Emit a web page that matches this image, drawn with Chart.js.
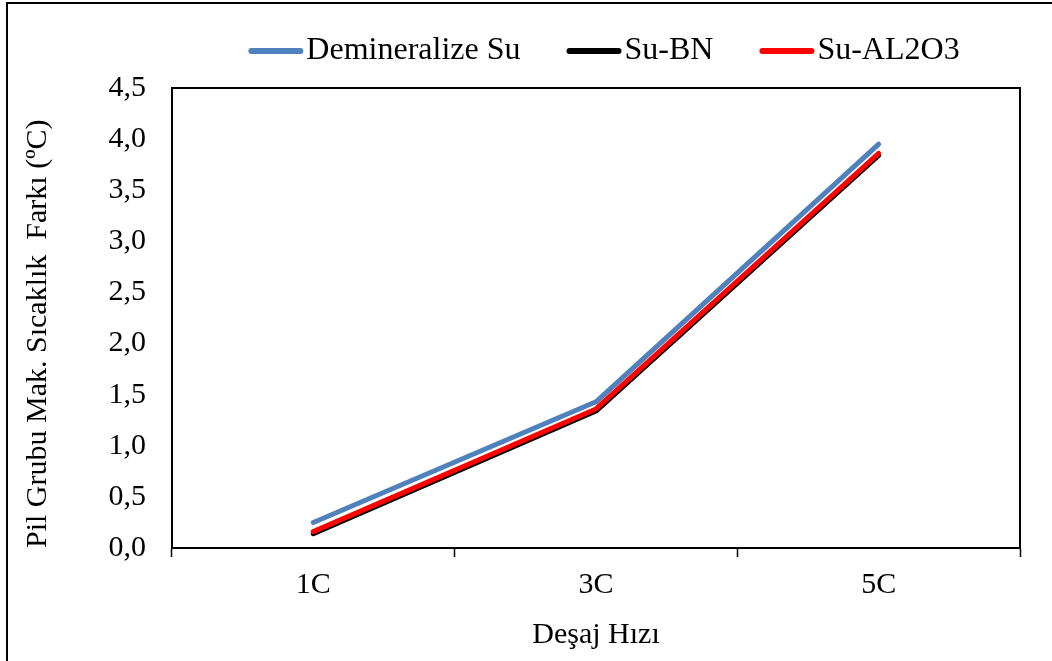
<!DOCTYPE html>
<html>
<head>
<meta charset="utf-8">
<script src="https://cdn.jsdelivr.net/npm/chart.js@4/dist/chart.umd.min.js"></script>
<style>
  html, body { margin: 0; padding: 0; background: #ffffff; }
  #wrap { width: 1052px; height: 661px; position: relative; }
</style>
</head>
<body>
<div id="wrap"><canvas id="c" width="1052" height="661"></canvas></div>
<script>
// Discharge rates on the x axis
const categories = ['1C', '3C', '5C'];

// Maximum temperature difference of the battery pack (°C)
const demineralizeSu = [0.25, 1.43, 3.95];
const suBN = [0.14, 1.34, 3.84];
const suAl2O3 = [0.16, 1.36, 3.86];

const seriesNames = ['Demineralize Su', 'Su-BN', 'Su-AL2O3'];
const seriesColors = ['#4F81BD', '#000000', '#FF0000'];

// Y axis ticks
const yMin = 0;
const yMax = 4.5;
const yStep = 0.5;

const xTitle = 'Deşaj Hızı';
const yTitle = 'Pil Grubu Mak. Sıcaklık  Farkı (ºC)';

const FONT = '"Liberation Serif", "Times New Roman", serif';

// White page with the thin black frame on the top and left edges
const framePlugin = {
  id: 'frame',
  beforeDraw(chart) {
    const ctx = chart.ctx;
    ctx.save();
    ctx.fillStyle = '#ffffff';
    ctx.fillRect(0, 0, chart.width, chart.height);
    ctx.strokeStyle = '#000000';
    ctx.lineWidth = 2;
    ctx.beginPath();
    ctx.moveTo(7, chart.height + 2);
    ctx.lineTo(7, 3);
    ctx.lineTo(chart.width + 2, 3);
    ctx.stroke();
    ctx.restore();
  }
};

// Box around the plot area
const plotBoxPlugin = {
  id: 'plotBox',
  beforeDatasetsDraw(chart) {
    const a = chart.chartArea;
    const ctx = chart.ctx;
    ctx.save();
    ctx.strokeStyle = '#000000';
    ctx.lineWidth = 2;
    ctx.strokeRect(a.left, a.top, a.right - a.left, a.bottom - a.top);
    ctx.restore();
  }
};

// Legend row: line sample followed closely by the label
const legendPlugin = {
  id: 'lineLegend',
  afterDraw(chart) {
    const ctx = chart.ctx;
    const lineLen = 55, gap = 3, itemGap = 46, y = 51;
    ctx.save();
    ctx.font = '32px ' + FONT;
    ctx.textBaseline = 'middle';
    ctx.textAlign = 'left';
    const items = seriesNames.map((name, i) => ({ name, color: seriesColors[i], w: ctx.measureText(name).width }));
    const total = items.reduce((s, it) => s + lineLen + gap + it.w, 0) + itemGap * (items.length - 1);
    const a = chart.chartArea;
    let x = (a.left + a.right) / 2 + 8 - total / 2;
    items.forEach(it => {
      ctx.strokeStyle = it.color;
      ctx.lineWidth = 6;
      ctx.lineCap = 'round';
      ctx.beginPath();
      ctx.moveTo(x + 3, y);
      ctx.lineTo(x + lineLen - 3, y);
      ctx.stroke();
      ctx.fillStyle = '#000000';
      ctx.fillText(it.name, x + lineLen + gap, y);
      x += lineLen + gap + it.w + itemGap;
    });
    ctx.restore();
  }
};

const mkSet = (label, data, color, order) => ({
  label,
  data,
  borderColor: color,
  backgroundColor: color,
  borderWidth: 5,
  borderCapStyle: 'round',
  borderJoinStyle: 'round',
  pointRadius: 0,
  pointHoverRadius: 0,
  tension: 0,
  fill: false,
  order
});

new Chart(document.getElementById('c'), {
  type: 'line',
  data: {
    labels: categories,
    datasets: [
      mkSet(seriesNames[0], demineralizeSu, seriesColors[0], 2),
      mkSet(seriesNames[1], suBN, seriesColors[1], 1),
      mkSet(seriesNames[2], suAl2O3, seriesColors[2], 0)
    ]
  },
  options: {
    responsive: false,
    animation: false,
    devicePixelRatio: 1,
    layout: { padding: { top: 88, left: 0, right: 32, bottom: 0 } },
    plugins: {
      legend: { display: false },
      tooltip: { enabled: false }
    },
    scales: {
      x: {
        type: 'category',
        offset: true,
        grid: {
          offset: true,
          drawOnChartArea: false,
          drawTicks: true,
          tickLength: 9,
          tickWidth: 1.5,
          color: '#000000'
        },
        border: { display: true, color: '#000000', width: 2 },
        ticks: {
          color: '#000000',
          font: { family: FONT, size: 30 },
          padding: 10
        },
        title: {
          display: true,
          text: xTitle,
          color: '#000000',
          font: { family: FONT, size: 30 },
          padding: { top: 0, bottom: 8 }
        },
        afterFit(scale) { scale.height = 661 - 548; }
      },
      y: {
        min: yMin,
        max: yMax,
        grid: { display: false, drawTicks: false },
        border: { display: true, color: '#000000', width: 2 },
        ticks: {
          stepSize: yStep,
          color: '#000000',
          font: { family: FONT, size: 30 },
          padding: 26,
          callback: v => Number(v).toFixed(1).replace('.', ',')
        },
        title: {
          display: true,
          text: yTitle,
          align: 'start',
          color: '#000000',
          font: { family: FONT, size: 30 },
          padding: { top: 20, bottom: 0 }
        },
        afterFit(scale) { scale.width = 172; }
      }
    }
  },
  plugins: [framePlugin, plotBoxPlugin, legendPlugin]
});
</script>
</body>
</html>
